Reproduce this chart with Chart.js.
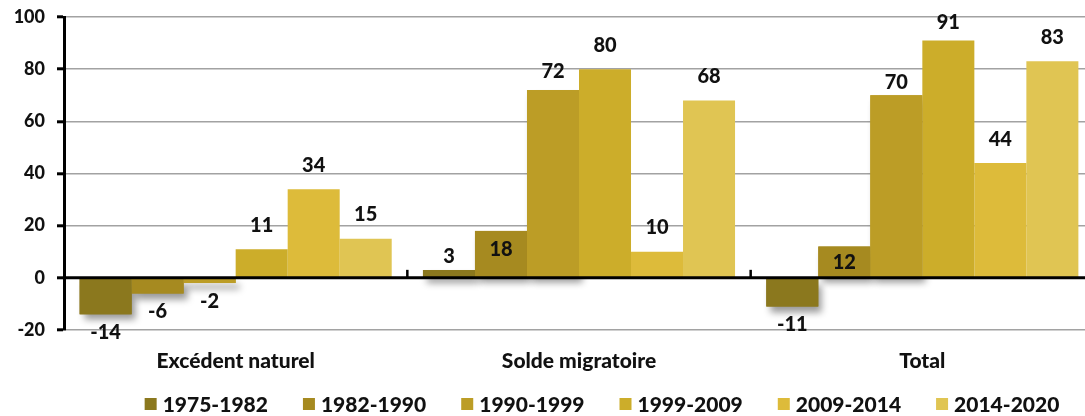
<!DOCTYPE html>
<html>
<head>
<meta charset="utf-8">
<script src="https://cdn.jsdelivr.net/npm/chart.js@4/dist/chart.umd.min.js"></script>
<style>
  html, body { margin: 0; padding: 0; background: #fff; overflow: hidden; }
  #wrap { width: 1100px; height: 416px; }
</style>
</head>
<body>
<div id="wrap"><canvas id="chart" width="1100" height="416"></canvas></div>
<script>
// Population change components (thousands), by period
const categories = ['Excédent naturel', 'Solde migratoire', 'Total'];
const periods = ['1975-1982', '1982-1990', '1990-1999', '1999-2009', '2009-2014', '2014-2020'];
const p1975 = [-14, 3, -11];
const p1982 = [-6, 18, 12];
const p1990 = [-2, 72, 70];
const p1999 = [11, 80, 91];
const p2009 = [34, 10, 44];
const p2014 = [15, 68, 83];
const yMin = -20, yMax = 100, yStep = 20;

const seriesValues = [p1975, p1982, p1990, p1999, p2009, p2014];
const palette = ['#8B781E', '#A68A20', '#BC9D26', '#CCAD2A', '#DDBB3A', '#E0C553'];
const FONT = "Lato, 'Open Sans', sans-serif";
const WEIGHT = '900';

// Soft drop shadow behind the bars of the earliest periods
const barShadow = {
  id: 'barShadow',
  beforeDatasetsDraw(chart, args, opts) {
    const ctx = chart.ctx;
    ctx.save();
    ctx.shadowColor = opts.color;
    ctx.shadowBlur = opts.blur;
    ctx.shadowOffsetX = opts.dx;
    ctx.shadowOffsetY = opts.dy;
    opts.datasets.forEach(di => {
      const meta = chart.getDatasetMeta(di);
      ctx.fillStyle = chart.data.datasets[di].backgroundColor;
      meta.data.forEach(bar => {
        const { x, y, base, width } = bar.getProps(['x', 'y', 'base', 'width'], true);
        ctx.fillRect(x - width / 2, Math.min(y, base), width, Math.abs(base - y));
      });
    });
    ctx.restore();
  }
};

// Zero baseline, category separators and value labels on top of the bars
const overlay = {
  id: 'overlay',
  afterDatasetsDraw(chart, args, opts) {
    const ctx = chart.ctx;
    const { left, right } = chart.chartArea;
    const xs = chart.scales.x, ys = chart.scales.y;
    const y0 = ys.getPixelForValue(0);
    ctx.save();
    ctx.strokeStyle = '#000';
    ctx.lineWidth = 3;
    ctx.beginPath();
    ctx.moveTo(left, y0);
    ctx.lineTo(right, y0);
    ctx.stroke();
    ctx.lineWidth = 2.5;
    for (let i = 0; i < categories.length - 1; i++) {
      const bx = (xs.getPixelForValue(i) + xs.getPixelForValue(i + 1)) / 2;
      ctx.beginPath();
      ctx.moveTo(bx, y0);
      ctx.lineTo(bx, y0 - 8);
      ctx.stroke();
    }
    ctx.fillStyle = '#111';
    ctx.font = WEIGHT + ' 20px ' + FONT;
    ctx.textAlign = 'center';
    ctx.textBaseline = 'middle';
    chart.data.datasets.forEach((ds, di) => {
      chart.getDatasetMeta(di).data.forEach((bar, i) => {
        const v = ds.data[i];
        const key = di + ':' + i;
        let ty;
        if (v >= 0) {
          const lift = key in opts.lift ? opts.lift[key] : opts.above;
          ty = bar.y - lift;
        } else {
          ty = bar.y + opts.below;
        }
        ctx.fillText(String(v), bar.x, ty);
      });
    });
    ctx.restore();
  }
};

// Legend row along the bottom
const legendRow = {
  id: 'legendRow',
  afterDraw(chart, args, opts) {
    const ctx = chart.ctx;
    ctx.save();
    ctx.font = WEIGHT + ' 21px ' + FONT;
    ctx.textBaseline = 'middle';
    ctx.textAlign = 'left';
    const items = chart.data.datasets.map(ds => ({
      label: ds.label, color: ds.backgroundColor, w: ctx.measureText(ds.label).width
    }));
    const total = items.reduce((s, it) => s + opts.box + opts.gap + it.w, 0) + opts.spacing * (items.length - 1);
    let x = opts.centerX - total / 2;
    items.forEach(it => {
      ctx.fillStyle = it.color;
      ctx.fillRect(x, opts.y - opts.box / 2, opts.box, opts.box);
      ctx.fillStyle = '#111';
      ctx.fillText(it.label, x + opts.box + opts.gap, opts.y + 1);
      x += opts.box + opts.gap + it.w + opts.spacing;
    });
    ctx.restore();
  }
};

new Chart(document.getElementById('chart'), {
  type: 'bar',
  data: {
    labels: categories,
    datasets: periods.map((p, i) => ({
      label: p,
      data: seriesValues[i],
      backgroundColor: palette[i],
      borderWidth: 0,
      barPercentage: 1,
      categoryPercentage: 0.909
    }))
  },
  options: {
    responsive: false,
    animation: false,
    devicePixelRatio: 1,
    layout: { padding: { top: 17, right: 6, bottom: 0, left: 0 } },
    scales: {
      x: {
        grid: { display: false },
        border: { display: false },
        ticks: { color: '#111', padding: 11, font: { family: FONT, size: 21, weight: WEIGHT } },
        afterFit(scale) { scale.height = 86; }
      },
      y: {
        min: yMin,
        max: yMax,
        ticks: { stepSize: yStep, color: '#111', padding: 12, font: { family: FONT, size: 18, weight: WEIGHT } },
        grid: {
          color: '#a2a2a2',
          lineWidth: 1.6,
          tickColor: '#000',
          tickWidth: 3,
          tickLength: 7
        },
        border: { color: '#000', width: 3 },
        afterFit(scale) {
          scale.width = 64;
          scale.paddingTop = 0;
          scale.paddingBottom = 0;
        }
      }
    },
    plugins: {
      legend: { display: false },
      tooltip: { enabled: false },
      barShadow: { datasets: [0, 1, 2], color: 'rgba(0,0,0,0.4)', blur: 7, dx: 4, dy: 6 },
      overlay: {
        above: 24,
        below: 18,
        lift: { '0:1': 13, '1:1': -19, '2:1': 18, '1:2': -16, '2:2': 13, '3:2': 18 }
      },
      legendRow: { centerX: 602, y: 404, box: 12, gap: 6, spacing: 35 }
    }
  },
  plugins: [barShadow, overlay, legendRow]
});
</script>
</body>
</html>
